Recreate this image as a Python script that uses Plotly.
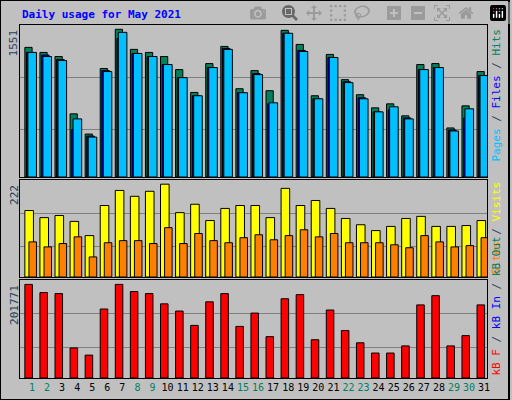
import plotly.graph_objects as go

days = list(range(1, 32))
hits = [1361,1308,1265,663,451,1139,1551,1340,1308,1265,1128,888,1191,1371,927,1117,906,1540,1392,853,1287,1022,864,726,768,642,1181,1191,515,747,1107]
files = [1308,1280,1234,497,430,1117,1456,1297,1265,1181,1043,853,1149,1350,885,1086,768,1509,1329,821,1255,1001,832,684,705,620,1128,1149,494,620,1065]
pages = [1308,1265,1223,610,419,1107,1519,1297,1265,1181,1043,853,1149,1340,885,1075,779,1509,1318,821,1255,991,821,684,737,610,1128,1149,483,716,1065]
visits = [159,142,147,133,99,171,207,193,205,222,154,174,135,164,171,171,142,212,171,183,164,140,125,111,121,140,145,121,121,123,135]
sites = [84,72,80,96,48,82,87,87,80,118,80,104,87,82,94,101,89,99,113,96,104,82,82,82,77,70,99,84,72,75,94]
kbytes = [201771,184100,181890,64800,49340,148750,201771,186310,181890,159800,144330,113400,164210,181890,111200,139920,89100,170840,179680,82480,146540,102360,75850,53760,53760,69220,157590,177470,69220,91310,157590]
weekend = [1,2,8,9,15,16,22,23,29,30]

fig = go.Figure()
line = dict(color="black", width=1)
def bar(y, color, offset, width, ax):
    fig.add_trace(go.Bar(x=days, y=y, marker=dict(color=color, line=line), offset=offset,
                         width=width, xaxis="x" + ax, yaxis="y" + ax, showlegend=False, hoverinfo="y"))

bar(hits, "#00805c", -0.47, 0.48, "")
bar(files, "#0000ff", -0.36, 0.5, "")
bar(pages, "#00c0ff", -0.27, 0.57, "")
bar(visits, "#ffff00", -0.47, 0.57, "2")
bar(sites, "#ff8000", -0.2, 0.5, "2")
bar(kbytes, "#ff0000", -0.47, 0.5, "3")

xr = [0.2, 31.2]
xd = [20/512, 490/512]
ticktext = [f"<span style='color:{'#008060' if d in weekend else 'black'}'>{d}</span>" for d in days]
common_x = dict(range=xr, domain=xd, showline=True, linecolor="black", mirror=True, showgrid=False, zeroline=False)
def yax(top, dom):
    return dict(range=[0, top], domain=dom, tickvals=[top*0.31, top*0.655], showticklabels=False,
                gridcolor="#808080", showline=True, linecolor="black", mirror=True, zeroline=False, ticks="")

fig.update_layout(
    width=512, height=400, margin=dict(l=0, r=0, t=0, b=0),
    paper_bgcolor="#c0c0c0", plot_bgcolor="#c0c0c0", barmode="overlay",
    xaxis=dict(common_x, anchor="y", showticklabels=False, ticks=""),
    yaxis=yax(1596, [1-177/400, 1-25/400]),
    xaxis2=dict(common_x, anchor="y2", showticklabels=False, ticks=""),
    yaxis2=yax(232, [1-277/400, 1-180/400]),
    xaxis3=dict(common_x, anchor="y3", tickvals=days, ticktext=ticktext, ticks="",
                tickfont=dict(family="DejaVu Sans Mono", size=10, color="black"), tickangle=0),
    yaxis3=yax(211260, [1-378/400, 1-280/400]),
    font=dict(family="DejaVu Sans Mono", size=11),
)

ann = [
    dict(x=20/512, y=1-14/400, text="<b>Daily usage for May 2021</b>", font=dict(color="#0000ff", size=11), xanchor="left", yanchor="middle"),
    dict(x=14/512, y=1-27/400, text="1551", textangle=-90, xanchor="center", yanchor="top"),
    dict(x=14/512, y=1-183/400, text="222", textangle=-90, xanchor="center", yanchor="top"),
    dict(x=14/512, y=1-283/400, text="201771", textangle=-90, xanchor="center", yanchor="top"),
    dict(x=499/512, y=1-27/400, textangle=-90, xanchor="center", yanchor="top",
         text="<span style='color:#00c0ff'>Pages</span> / <span style='color:#0000ff'>Files</span> / <span style='color:#008060'>Hits</span>"),
    dict(x=499/512, y=1-180/400, textangle=-90, xanchor="center", yanchor="top",
         text="<span style='color:#ff8000'>Sites</span> / <span style='color:#ffff00'>Visits</span>"),
    dict(x=499/512, y=1-378/400, textangle=-90, xanchor="center", yanchor="bottom",
         text="<span style='color:#ff0000'>kB F</span> / <span style='color:#0000ff'>kB In</span> / <span style='color:#008060'>kB Out</span>"),
]
for a in ann:
    a.setdefault("showarrow", False)
    a.setdefault("xref", "paper"); a.setdefault("yref", "paper")
    fig.add_annotation(**a)

fig.add_shape(type="rect", xref="paper", yref="paper", x0=0, y0=0, x1=1, y1=1, line=dict(color="black", width=2))
fig.write_html("out.html")
with open("out.html", encoding="utf-8") as f:
    html = f.read()
html = html.replace("<head>", "<head><style>html,body{margin:0;padding:0;overflow:hidden;}</style>", 1)
with open("out.html", "w", encoding="utf-8") as f:
    f.write(html)
